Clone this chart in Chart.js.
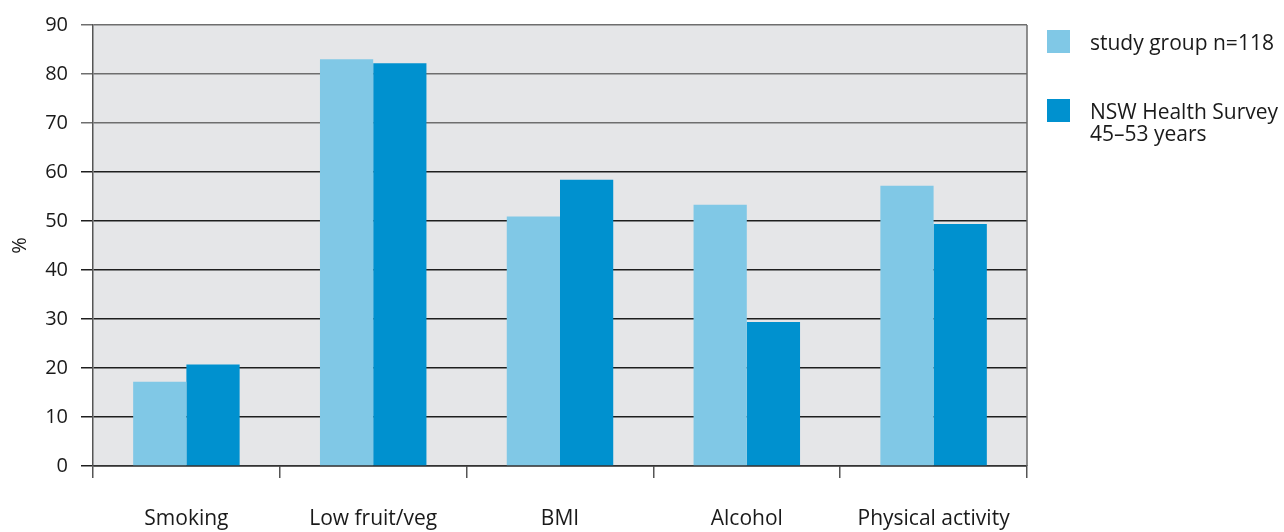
<!DOCTYPE html>
<html>
<head>
<meta charset="utf-8">
<script src="https://cdn.jsdelivr.net/npm/chart.js@4"></script>
<style>
  body { margin: 0; background: #fff; }
  #wrap { position: relative; width: 1284px; height: 532px; }
  #legend { position: absolute; left: 1047px; top: 0; width: 237px; font-family: "Open Sans", sans-serif; font-size: 21px; color: #1a1a1a; }
  .box { position: absolute; left: 0; width: 23px; height: 23px; }
  .txt { position: absolute; left: 43px; line-height: 22px; white-space: nowrap; }
</style>
</head>
<body>
<div id="wrap">
  <canvas id="chart" width="1284" height="532"></canvas>
  <div id="legend"></div>
</div>
<script>
const categories = ["Smoking", "Low fruit/veg", "BMI", "Alcohol", "Physical activity"];
const studyGroup = [17.2, 83.0, 50.9, 53.3, 57.2];
const nswSurvey = [20.7, 82.2, 58.4, 29.4, 49.4];
const seriesNames = ["study group n=118", ["NSW Health Survey", "45–53 years"]];
const seriesColors = ["#80c8e6", "#0091cf"];
const yTicks = [0, 10, 20, 30, 40, 50, 60, 70, 80, 90];

const labelFont = { family: "'Open Sans', sans-serif", size: 21 };
const tickFont = { family: "'Open Sans', sans-serif", size: 20 };

const plotBg = {
    id: 'plotBg',
    beforeDraw: (chart) => {
        const { ctx, chartArea: a } = chart;
        ctx.save();
        ctx.fillStyle = '#e5e6e8';
        ctx.fillRect(a.left, a.top, a.right - a.left, a.bottom - a.top);
        ctx.restore();
    },
    afterDatasetsDraw: (chart) => {
        const { ctx, chartArea: a } = chart;
        ctx.save();
        ctx.strokeStyle = '#6b6b6b';
        ctx.lineWidth = 1.5;
        ctx.beginPath();
        ctx.moveTo(a.right, a.top);
        ctx.lineTo(a.right, a.bottom);
        ctx.stroke();
        ctx.restore();
    }
};

new Chart(document.getElementById("chart"), {
    type: "bar",
    data: {
        labels: categories,
        datasets: [
            { label: "study group n=118", data: studyGroup, backgroundColor: seriesColors[0] },
            { label: "NSW Health Survey 45–53 years", data: nswSurvey, backgroundColor: seriesColors[1] }
        ]
    },
    options: {
        responsive: false,
        animation: false,
        categoryPercentage: 0.57,
        barPercentage: 1,
        layout: { padding: { left: 5, right: 257, top: 17, bottom: 0 } },
        plugins: {
            legend: { display: false },
            tooltip: { enabled: false }
        },
        scales: {
            x: {
                afterFit: (axis) => { axis.height = 66; },
                grid: { offset: true, drawOnChartArea: false, tickLength: 12, color: '#555', lineWidth: 1.5 },
                border: { color: '#333', width: 1.5 },
                ticks: { font: labelFont, color: '#1a1a1a', padding: 28, maxRotation: 0 }
            },
            y: {
                min: 0,
                max: 90,
                afterBuildTicks: (axis) => { axis.ticks = yTicks.map(v => ({ value: v })); },
                afterFit: (axis) => { axis.width = 88; },
                grid: {
                    tickLength: 12,
                    lineWidth: 1.5,
                    color: (c) => (c.tick && c.tick.value >= 70) ? '#6e6e6e' : '#1e1e1e'
                },
                border: { color: '#555', width: 1.5 },
                ticks: { font: tickFont, color: '#1a1a1a', padding: 13 },
                title: { display: true, text: "%", font: tickFont, color: '#1a1a1a', padding: { top: 3, bottom: 0 } }
            }
        }
    },
    plugins: [plotBg]
});

// legend
const legend = document.getElementById("legend");
const tops = [30, 99];
seriesNames.forEach((name, k) => {
    const box = document.createElement("div");
    box.className = "box";
    box.style.top = tops[k] + "px";
    box.style.background = seriesColors[k];
    legend.appendChild(box);
    const txt = document.createElement("div");
    txt.className = "txt";
    txt.style.top = (tops[k] + 1) + "px";
    txt.innerHTML = [].concat(name).join("<br>");
    legend.appendChild(txt);
});
</script>
</body>
</html>
